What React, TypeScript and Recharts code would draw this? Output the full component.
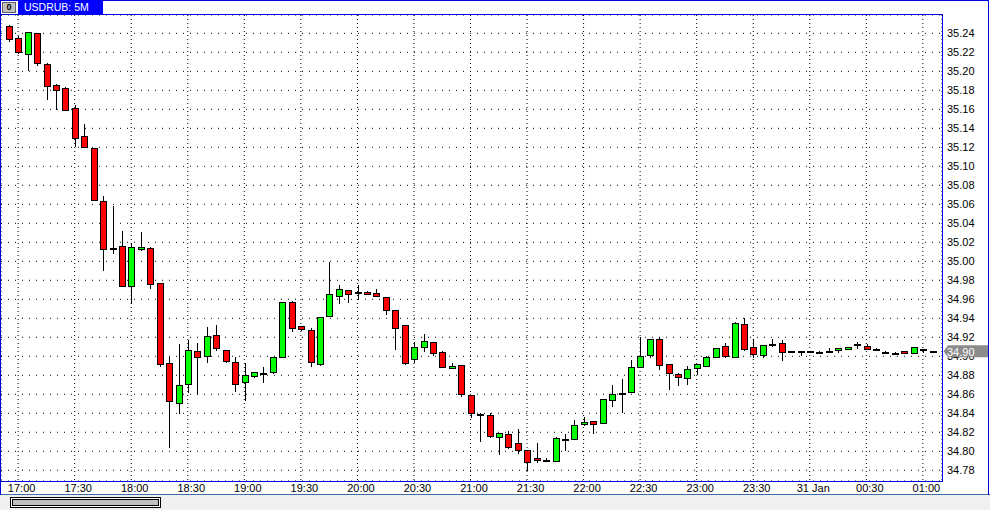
import { Bar, CartesianGrid, ComposedChart, XAxis, YAxis } from "recharts";

const SYMBOL = "USDRUB: 5M";

const TIMES = [
  "16:55", "17:00", "17:05", "17:10", "17:15", "17:20", "17:25", "17:30", "17:35", "17:40", "17:45", "17:50",
  "17:55", "18:00", "18:05", "18:10", "18:15", "18:20", "18:25", "18:30", "18:35", "18:40", "18:45", "18:50",
  "18:55", "19:00", "19:05", "19:10", "19:15", "19:20", "19:25", "19:30", "19:35", "19:40", "19:45", "19:50",
  "19:55", "20:00", "20:05", "20:10", "20:15", "20:20", "20:25", "20:30", "20:35", "20:40", "20:45", "20:50",
  "20:55", "21:00", "21:05", "21:10", "21:15", "21:20", "21:25", "21:30", "21:35", "21:40", "21:45", "21:50",
  "21:55", "22:00", "22:05", "22:10", "22:15", "22:20", "22:25", "22:30", "22:35", "22:40", "22:45", "22:50",
  "22:55", "23:00", "23:05", "23:10", "23:15", "23:20", "23:25", "23:30", "23:35", "23:40", "23:45", "23:50",
  "23:55", "00:00", "00:05", "00:10", "00:15", "00:20", "00:25", "00:30", "00:35", "00:40", "00:45", "00:50",
  "00:55", "01:00", "01:05",
];

const OPEN = [
  35.2474, 35.2347, 35.2179, 35.24, 35.2074, 35.1853, 35.1821, 35.1611, 35.1316, 35.119, 35.0632, 35.0137,
  35.0158, 34.9744, 35.0126, 35.0137, 34.9768, 34.8926, 34.8505, 34.8705, 34.9053, 34.9, 34.9221, 34.9063,
  34.8937, 34.8726, 34.8789, 34.8828, 34.8839, 34.8989, 34.9568, 34.9316, 34.9274, 34.8923, 34.9421, 34.9632,
  34.9695, 34.9677, 34.9674, 34.9667, 34.9621, 34.9484, 34.9326, 34.8968, 34.9102, 34.9147, 34.9042, 34.8874,
  34.8905, 34.8589, 34.8396, 34.8379, 34.8147, 34.8179, 34.8084, 34.8011, 34.793, 34.7912, 34.7902, 34.8133,
  34.8126, 34.8284, 34.8316, 34.8295, 34.8537, 34.8618, 34.8621, 34.8884, 34.9011, 34.9179, 34.8916, 34.8811,
  34.8768, 34.8874, 34.8895, 34.8989, 34.9105, 34.8989, 34.9337, 34.9095, 34.9011, 34.9126, 34.9137, 34.906,
  34.906, 34.906, 34.9049, 34.906, 34.9063, 34.9074, 34.9126, 34.9109, 34.9081, 34.9049, 34.9039, 34.9053,
  34.9039, 34.9074, 34.9053,
];

const HIGH = [
  35.2491, 35.2372, 35.241, 35.24, 35.2084, 35.1863, 35.183, 35.1642, 35.1446, 35.119, 35.0688, 35.0582,
  35.0319, 35.019, 35.0309, 35.0147, 34.9768, 34.8996, 34.913, 34.9172, 34.9141, 34.9309, 34.933, 34.9063,
  34.8993, 34.8926, 34.8832, 34.8888, 34.8993, 34.9568, 34.9582, 34.932, 34.9295, 34.9411, 34.9993, 34.9747,
  34.97, 34.9751, 34.9688, 34.9709, 34.9621, 34.9484, 34.9326, 34.9154, 34.9235, 34.9147, 34.9053, 34.8933,
  34.8905, 34.8589, 34.84, 34.84, 34.8189, 34.8214, 34.8235, 34.8011, 34.8088, 34.7925, 34.815, 34.8182,
  34.8333, 34.8358, 34.8316, 34.8547, 34.8698, 34.8758, 34.8962, 34.92, 34.9179, 34.92, 34.8916, 34.8821,
  34.8895, 34.8916, 34.9, 34.9084, 34.9144, 34.9358, 34.94, 34.9179, 34.9116, 34.9179, 34.9168, 34.906,
  34.906, 34.906, 34.9053, 34.9091, 34.9084, 34.9098, 34.9151, 34.9133, 34.9084, 34.906, 34.9042, 34.9053,
  34.9095, 34.9074, 34.9055,
];

const LOW = [
  35.2316, 35.219, 35.2014, 35.207, 35.1705, 35.1604, 35.159, 35.1214, 35.12, 35.0642, 34.9905, 35.0091,
  34.9737, 34.9565, 35.012, 34.9723, 34.8902, 34.8042, 34.84, 34.8628, 34.86, 34.8944, 34.907, 34.894,
  34.8638, 34.854, 34.8779, 34.8733, 34.8821, 34.8989, 34.927, 34.928, 34.8902, 34.891, 34.9421, 34.9565,
  34.9575, 34.9607, 34.9653, 34.9635, 34.9442, 34.9081, 34.8923, 34.8944, 34.906, 34.9018, 34.8884, 34.8874,
  34.8586, 34.8358, 34.8112, 34.8154, 34.7975, 34.8039, 34.7986, 34.7804, 34.7888, 34.7905, 34.7902, 34.8014,
  34.8126, 34.8277, 34.8189, 34.8295, 34.8474, 34.8418, 34.8621, 34.8884, 34.8996, 34.887, 34.866, 34.8702,
  34.8705, 34.8811, 34.8895, 34.8989, 34.8996, 34.8989, 34.9063, 34.8989, 34.8989, 34.9105, 34.8958, 34.9042,
  34.9011, 34.9042, 34.9045, 34.906, 34.9042, 34.9074, 34.9091, 34.9074, 34.9078, 34.9049, 34.9036, 34.9032,
  34.9039, 34.9042, 34.9051,
];

const CLOSE = [
  35.2337, 35.22, 35.241, 35.2084, 35.1842, 35.18, 35.159, 35.1295, 35.12, 35.0642, 35.0126, 35.0137,
  34.9737, 35.0147, 35.0147, 34.9758, 34.8916, 34.8526, 34.8695, 34.9063, 34.8989, 34.9211, 34.9084, 34.8947,
  34.8705, 34.88, 34.8832, 34.8828, 34.8993, 34.9568, 34.9302, 34.9284, 34.8937, 34.9411, 34.9653, 34.9705,
  34.966, 34.9677, 34.9653, 34.9639, 34.9491, 34.9302, 34.8933, 34.9095, 34.9158, 34.9032, 34.8884, 34.8898,
  34.86, 34.84, 34.8396, 34.8165, 34.8189, 34.8049, 34.8011, 34.7891, 34.7905, 34.7912, 34.814, 34.8133,
  34.8274, 34.8305, 34.8284, 34.8547, 34.86, 34.8618, 34.8891, 34.9, 34.9179, 34.8905, 34.8821, 34.8779,
  34.8863, 34.8916, 34.8989, 34.9084, 34.9007, 34.9347, 34.9074, 34.9021, 34.9116, 34.9126, 34.9042, 34.906,
  34.906, 34.906, 34.9049, 34.906, 34.9084, 34.9098, 34.9126, 34.9074, 34.9081, 34.9049, 34.9039, 34.9032,
  34.9095, 34.9074, 34.9053,
];

const TICK_TIMES = [
  "17:00", "17:30", "18:00", "18:30", "19:00", "19:30", "20:00", "20:30", "21:00",
  "21:30", "22:00", "22:30", "23:00", "23:30", "00:00", "00:30", "01:00",
];
const TICK_LABELS = [
  "17:00", "17:30", "18:00", "18:30", "19:00", "19:30", "20:00", "20:30", "21:00",
  "21:30", "22:00", "22:30", "23:00", "23:30", "31 Jan", "00:30", "01:00",
];

const PRICE_TICKS = [
  34.78, 34.8, 34.82, 34.84, 34.86, 34.88, 34.9, 34.92, 34.94, 34.96, 34.98, 35.0,
  35.02, 35.04, 35.06, 35.08, 35.1, 35.12, 35.14, 35.16, 35.18, 35.2, 35.22, 35.24,
];
const PRICE_DOMAIN: [number, number] = [34.7687, 35.2593];

const FONT = "'Liberation Sans', Arial, sans-serif";
const UP = "#00ff00";
const DOWN = "#ff0000";
const FRAME = "#0000e0";
const PRICE_AXIS_W = 47;
const PLOT_RIGHT = 942;

const data = TIMES.map((time, i) => ({
  time,
  open: OPEN[i],
  high: HIGH[i],
  low: LOW[i],
  close: CLOSE[i],
  range: [LOW[i], HIGH[i]],
}));

function Candle(props: any) {
  const { x, y, width, height, payload } = props;
  if (!payload) return null;
  const { open, high, low, close } = payload;
  const top = Math.min(y, y + height);
  const k = Math.abs(height) / (high - low);
  const py = (p: number) => top + (high - p) * k;
  const c = Math.round(x + width / 2);
  const yo = py(open);
  const yc = py(close);
  const bTop = Math.round(Math.min(yo, yc)) + 0.5;
  let bBot = Math.round(Math.max(yo, yc)) + 0.5;
  const flat = close === open;
  if (bBot - bTop < 1 && !flat) bBot = bTop + 1;
  return (
    <g>
      <line
        x1={c + 0.5}
        x2={c + 0.5}
        y1={Math.round(py(high))}
        y2={Math.round(py(low)) + 1}
        stroke="#000"
        strokeWidth={1}
      />
      {flat ? (
        <rect x={c - 3} y={Math.round(yo)} width={7} height={2} fill="#000" />
      ) : (
        <rect
          x={c - 2.5}
          y={bTop}
          width={6}
          height={bBot - bTop}
          fill={close > open ? UP : DOWN}
          stroke="#000"
          strokeWidth={1}
        />
      )}
    </g>
  );
}

function TimeTick({ x, y, payload }: any) {
  const i = TICK_TIMES.indexOf(payload.value);
  return (
    <text x={x + 3.5} y={y + 10.7} textAnchor="middle" fontSize={11} fontFamily={FONT} fill="#000">
      {i >= 0 ? TICK_LABELS[i] : payload.value}
    </text>
  );
}

function PriceTick({ y, payload }: any) {
  return (
    <text x={PLOT_RIGHT + 5} y={y + 4} textAnchor="start" fontSize={11} fontFamily={FONT} fill="#000">
      {Number(payload.value).toFixed(2)}
    </text>
  );
}

// last-price marker on its own thin axis, so it is drawn over the price labels
function LastTag({ y, payload }: any) {
  const r = PLOT_RIGHT;
  const shown = (Math.floor(Number(payload.value) * 100) / 100).toFixed(2);
  return (
    <g>
      <polygon
        points={`${r + 1.5},${y} ${r + 6},${y - 6} ${r + 46},${y - 6} ${r + 46},${y + 6} ${r + 6},${y + 6}`}
        fill="#8c8c8c"
      />
      <text x={r + 5} y={y + 4.5} textAnchor="start" fontSize={11} fontFamily={FONT} fill="#fff">
        {shown}
      </text>
    </g>
  );
}

export default function App() {
  const last = CLOSE[CLOSE.length - 1];
  return (
    <div
      style={{
        position: "absolute",
        left: 0,
        top: 0,
        width: 990,
        height: 510,
        background: "#fff",
        overflow: "hidden",
        fontFamily: FONT,
      }}
    >
      <div style={{ position: "absolute", left: 0, top: 495, width: 990, height: 15, background: "#f0f0f0" }} />
      <div style={{ position: "absolute", left: 0, top: 494, width: 990, height: 1, background: "#3a6ea8" }} />
      <div
        style={{
          position: "absolute",
          left: 10,
          top: 497,
          width: 151,
          height: 11,
          boxSizing: "border-box",
          border: "1px solid #000",
          padding: 1,
          background: "#fff",
        }}
      >
        <div style={{ width: "100%", height: "100%", boxSizing: "border-box", border: "1px solid #000", background: "#c0c0c0" }} />
      </div>

      <ComposedChart
        width={990}
        height={510}
        data={data}
        margin={{ top: 15, right: 0, bottom: 15, left: 1 }}
        style={{ position: "absolute", left: 0, top: 0 }}
      >
        <CartesianGrid yAxisId="a-price" horizontal vertical={false} stroke="#000" strokeDasharray="1 6" />
        <CartesianGrid yAxisId="a-price" horizontal={false} vertical stroke="#000" strokeDasharray="1 3" />
        <XAxis
          dataKey="time"
          ticks={TICK_TIMES}
          interval={0}
          height={14}
          padding={{ left: 3, right: 5 }}
          axisLine={false}
          tickLine={false}
          tickSize={0}
          tickMargin={0}
          tick={<TimeTick />}
        />
        <YAxis
          yAxisId="a-price"
          orientation="right"
          width={PRICE_AXIS_W}
          domain={PRICE_DOMAIN}
          allowDataOverflow
          ticks={PRICE_TICKS}
          interval={0}
          axisLine={false}
          tickLine={false}
          tickSize={0}
          tickMargin={5}
          tick={<PriceTick />}
        />
        <YAxis
          yAxisId="b-last"
          orientation="right"
          width={1}
          domain={PRICE_DOMAIN}
          allowDataOverflow
          ticks={[last]}
          interval={0}
          axisLine={false}
          tickLine={false}
          tickSize={0}
          tickMargin={0}
          tick={<LastTag />}
        />
        <Bar yAxisId="a-price" dataKey="range" shape={(p: any) => <Candle {...p} />} isAnimationActive={false} />
      </ComposedChart>

      <div
        style={{
          position: "absolute",
          left: 0,
          top: 14,
          width: 943,
          height: 468,
          boxSizing: "border-box",
          border: `1px solid ${FRAME}`,
          pointerEvents: "none",
        }}
      />
      <div style={{ position: "absolute", left: 0, top: 0, width: 1, height: 495, background: FRAME }} />
      <div style={{ position: "absolute", left: 0, top: 0, width: 989, height: 1, background: FRAME }} />
      <div style={{ position: "absolute", left: 988, top: 0, width: 1, height: 495, background: FRAME }} />
      <div
        style={{
          position: "absolute",
          left: 18,
          top: 0,
          width: 85,
          height: 14,
          background: "#0000ff",
          color: "#fff",
          fontSize: 10.5,
          lineHeight: "14px",
          paddingLeft: 6,
          boxSizing: "border-box",
          whiteSpace: "nowrap",
        }}
      >
        {SYMBOL}
      </div>
      <div
        style={{
          position: "absolute",
          left: 2,
          top: 2,
          width: 14,
          height: 11,
          boxSizing: "border-box",
          background: "#c0c0c0",
          border: "1px solid #606060",
          fontSize: 9,
          fontWeight: "bold",
          lineHeight: "9px",
          textAlign: "center",
          color: "#000",
        }}
      >
        0
      </div>
    </div>
  );
}
